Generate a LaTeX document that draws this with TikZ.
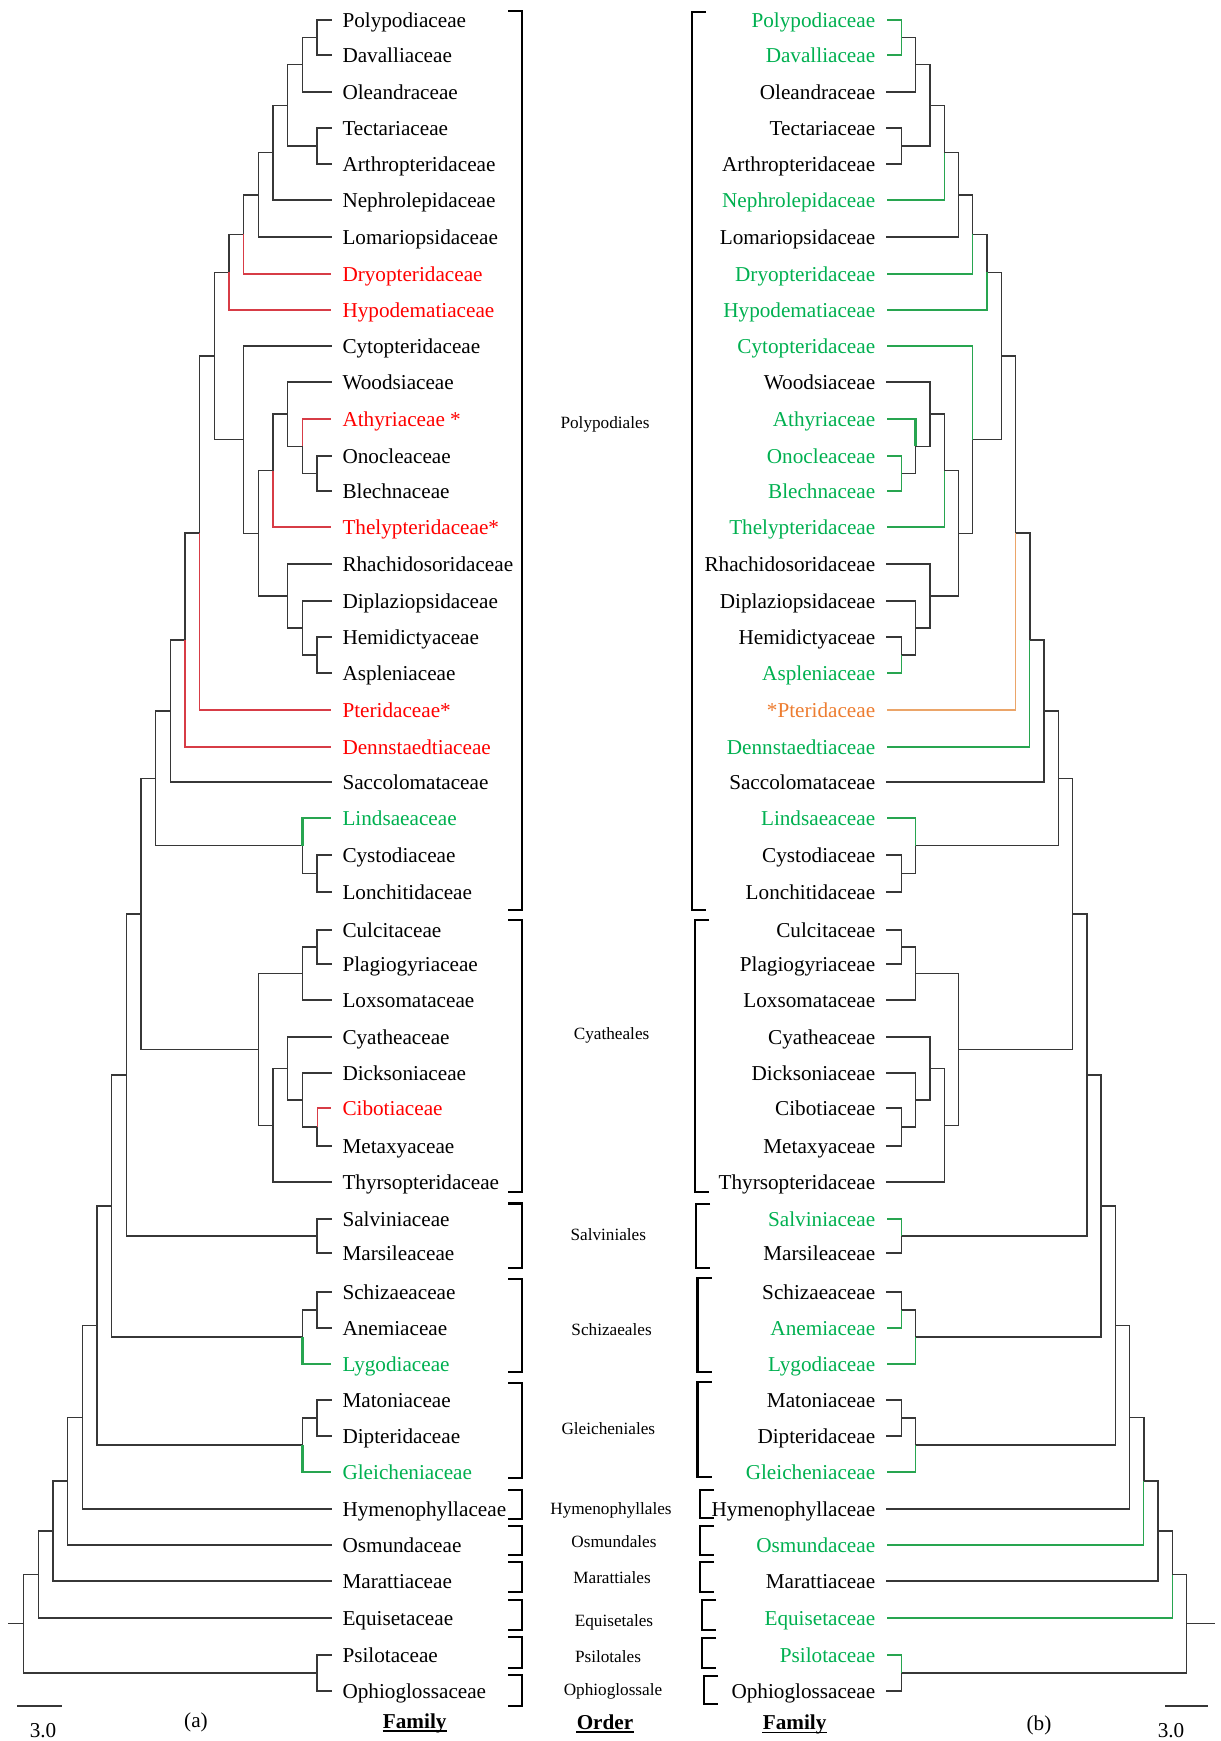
\documentclass[tikz,border=0pt]{standalone}
\usepackage{fontspec}
\setmainfont{Liberation Serif}
\usetikzlibrary{calc}
\definecolor{tred}{RGB}{255,0,0}
\definecolor{tgreen}{RGB}{0,176,80}
\definecolor{torange}{RGB}{237,125,49}
\definecolor{lred}{RGB}{215,60,70}
\definecolor{lgreen}{RGB}{40,165,80}
\definecolor{lorange}{RGB}{235,165,105}
\definecolor{treec}{RGB}{55,55,55}
\newcommand\labfont{\fontsize{10.6pt}{12pt}\selectfont}
\newcommand\ordfont{\fontsize{8.6pt}{10pt}\selectfont}
\newcommand\mkleaf[2]{\coordinate (L#1) at (331.3,#2); \coordinate (R#1) at (887,#2);}
\newcommand\mknode[3]{\coordinate (L#1) at ({xl(#2)},#3); \coordinate (R#1) at ({xr(#2)},#3);}
\newcommand\Lcon[3][tr]{\draw[#1] (L#2) |- (L#3);}
\newcommand\Rcon[3][tr]{\draw[#1] (R#2) |- (R#3);}
\newcommand\Ltx[3][]{\node[llab,#1] (tL#2) at (L#2) {#3};}
\newcommand\Rtx[3][]{\node[rlab,#1] (tR#2) at (R#2) {#3};}
\newcommand\Lbrk[2]{\draw[brk] (508,#1) -- (522,#1) -- (522,#2) -- (508,#2);}
\newcommand\Rbrk[3]{\draw[brk] ({#1+14},#2) -- (#1,#2) -- (#1,#3) -- ({#1+14},#3);}
\tikzset{
  tr/.style={draw=treec, line width=0.7pt, line cap=rect},
  rd/.style={draw=lred, line width=0.6pt},
  gn/.style={draw=lgreen, line width=0.6pt},
  gnk/.style={draw=lgreen, line width=1.3pt},
  og/.style={draw=lorange, line width=0.6pt},
  brk/.style={draw=black, line width=1.3pt},
  llab/.style={anchor=base west, inner sep=0pt, xshift=5.4pt, yshift=-3.8pt, font=\labfont},
  rlab/.style={anchor=base east, inner sep=0pt, xshift=-5.7pt, yshift=-3.8pt, font=\labfont},
  olab/.style={anchor=base, inner sep=0pt, font=\ordfont},
  btxt/.style={anchor=base, inner sep=0pt, font=\labfont},
}
\begin{document}
\begin{tikzpicture}[x=0.5pt,y=-0.5pt,
  declare function={xl(\k)=23.7+14.67*\k; xr(\k)=1186.6-14.255*\k;}]
\useasboundingbox (0,0) rectangle (1221,1741);
% leaves
\mkleaf{poly}{20}\mkleaf{dava}{55}\mkleaf{olea}{92}\mkleaf{tect}{128}
\mkleaf{arth}{164}\mkleaf{neph}{200}\mkleaf{loma}{237}\mkleaf{dryo}{274}
\mkleaf{hypo}{310}\mkleaf{cyto}{346}\mkleaf{wood}{382}\mkleaf{athy}{419}
\mkleaf{onoc}{456}\mkleaf{blec}{491}\mkleaf{thel}{527}\mkleaf{rhac}{564}
\mkleaf{dipl}{601}\mkleaf{hemi}{637}\mkleaf{aspl}{673}\mkleaf{pter}{710}
\mkleaf{denn}{747}\mkleaf{sacc}{782}\mkleaf{lind}{818}\mkleaf{cyst}{855}
\mkleaf{lonc}{892}\mkleaf{culc}{930}\mkleaf{plag}{964}\mkleaf{loxo}{1000}
\mkleaf{cyat}{1037}\mkleaf{dick}{1073}\mkleaf{cibo}{1108}\mkleaf{meta}{1146}
\mkleaf{thyr}{1182}\mkleaf{salv}{1219}\mkleaf{mars}{1253}\mkleaf{schi}{1292}
\mkleaf{anem}{1328}\mkleaf{lygo}{1364}\mkleaf{mato}{1400}\mkleaf{dipt}{1436}
\mkleaf{glei}{1472}\mkleaf{hyme}{1509}\mkleaf{osmu}{1545}\mkleaf{mara}{1581}
\mkleaf{equi}{1618}\mkleaf{psil}{1655}\mkleaf{ophi}{1691}
% internal nodes
\mknode{a1}{20}{37.5}\mknode{a2}{19}{64.75}\mknode{a3}{20}{146}
\mknode{a4}{18}{105.4}\mknode{a5}{17}{152.7}\mknode{a6}{16}{194.85}
\mknode{a7}{15}{234.4}\mknode{a8}{14}{272.2}
\mknode{b1}{20}{473.5}\mknode{b2}{19}{446.25}\mknode{b3}{18}{414.1}
\mknode{b4}{17}{470.6}\mknode{b5}{20}{655}\mknode{b6}{19}{628}
\mknode{b7}{18}{596}\mknode{b8}{16}{533.3}\mknode{b9}{15}{439.65}
\mknode{c1}{13}{355.9}\mknode{c2}{12}{532.95}\mknode{c3}{11}{640}
\mknode{c4}{10}{711}\mknode{d1}{20}{873.5}\mknode{d2}{19}{845.75}
\mknode{c5}{9}{778.4}
\mknode{e1}{20}{947}\mknode{e2}{19}{973.5}\mknode{e3}{20}{1127}
\mknode{e4}{19}{1100}\mknode{e5}{18}{1068.5}\mknode{e6}{17}{1125.25}
\mknode{e7}{16}{1049.4}\mknode{c6}{8}{913.9}
\mknode{f1}{20}{1236}\mknode{c7}{7}{1074.95}
\mknode{g1}{20}{1310}\mknode{g2}{19}{1337}\mknode{c8}{6}{1206}
\mknode{h1}{20}{1418}\mknode{h2}{19}{1445}\mknode{c9}{5}{1325.5}
\mknode{c10}{4}{1417.25}\mknode{c11}{3}{1481.1}\mknode{c12}{2}{1531}
\mknode{c13}{1}{1574.5}\mknode{i1}{20}{1673}\mknode{c14}{0}{1623.75}
\coordinate (Lroot) at (9,1623.75);
\coordinate (Rroot) at (1214,1623.75);
% ---------- left tree: black connectors
\Lcon{a1}{poly}\Lcon{a1}{dava}\Lcon{a2}{a1}\Lcon{a2}{olea}
\Lcon{a3}{tect}\Lcon{a3}{arth}\Lcon{a4}{a2}\Lcon{a4}{a3}
\Lcon{a5}{a4}\Lcon{a5}{neph}\Lcon{a6}{a5}\Lcon{a6}{loma}
\Lcon{a7}{a6}\Lcon{a8}{a7}
\Lcon{b1}{onoc}\Lcon{b1}{blec}\Lcon{b2}{b1}\Lcon{b3}{wood}\Lcon{b3}{b2}
\Lcon{b4}{b3}\Lcon{b5}{hemi}\Lcon{b5}{aspl}\Lcon{b6}{dipl}\Lcon{b6}{b5}
\Lcon{b7}{rhac}\Lcon{b7}{b6}\Lcon{b8}{b4}\Lcon{b8}{b7}\Lcon{b9}{cyto}\Lcon{b9}{b8}
\Lcon{c1}{a8}\Lcon{c1}{b9}\Lcon{c2}{c1}\Lcon{c3}{c2}\Lcon{c4}{c3}\Lcon{c4}{sacc}
\Lcon{d1}{cyst}\Lcon{d1}{lonc}\Lcon{d2}{d1}\Lcon{c5}{c4}\Lcon{c5}{d2}
\Lcon{e1}{culc}\Lcon{e1}{plag}\Lcon{e2}{e1}\Lcon{e2}{loxo}\Lcon{e3}{meta}
\Lcon{e4}{dick}\Lcon{e4}{e3}\Lcon{e5}{cyat}\Lcon{e5}{e4}\Lcon{e6}{e5}\Lcon{e6}{thyr}
\Lcon{e7}{e2}\Lcon{e7}{e6}\Lcon{c6}{c5}\Lcon{c6}{e7}
\Lcon{f1}{salv}\Lcon{f1}{mars}\Lcon{c7}{c6}\Lcon{c7}{f1}
\Lcon{g1}{schi}\Lcon{g1}{anem}\Lcon{g2}{g1}\Lcon{c8}{c7}\Lcon{c8}{g2}
\Lcon{h1}{mato}\Lcon{h1}{dipt}\Lcon{h2}{h1}\Lcon{c9}{c8}\Lcon{c9}{h2}
\Lcon{c10}{c9}\Lcon{c10}{hyme}\Lcon{c11}{c10}\Lcon{c11}{osmu}
\Lcon{c12}{c11}\Lcon{c12}{mara}\Lcon{c13}{c12}\Lcon{c13}{equi}
\Lcon{i1}{psil}\Lcon{i1}{ophi}\Lcon{c14}{c13}\Lcon{c14}{i1}
\draw[tr] (Lc14) -- (Lroot);
% left coloured connectors
\Lcon[rd]{a7}{dryo}\Lcon[rd]{a8}{hypo}\Lcon[rd]{b2}{athy}\Lcon[rd]{b4}{thel}
\Lcon[rd]{c2}{pter}\Lcon[rd]{c3}{denn}\Lcon[rd]{e3}{cibo}
\Lcon[gnk]{d2}{lind}\Lcon[gnk]{g2}{lygo}\Lcon[gnk]{h2}{glei}
% ---------- right tree: black connectors
\Rcon{a2}{a1}\Rcon{a2}{olea}
\Rcon{a3}{tect}\Rcon{a3}{arth}\Rcon{a4}{a2}\Rcon{a4}{a3}
\Rcon{a5}{a4}\Rcon{a6}{a5}\Rcon{a6}{loma}
\Rcon{a7}{a6}\Rcon{a8}{a7}
\Rcon{b2}{b1}\Rcon{b3}{wood}\Rcon{b3}{b2}
\Rcon{b4}{b3}\Rcon{b5}{hemi}\Rcon{b6}{dipl}\Rcon{b6}{b5}
\Rcon{b7}{rhac}\Rcon{b7}{b6}\Rcon{b8}{b4}\Rcon{b8}{b7}\Rcon{b9}{b8}
\Rcon{c1}{a8}\Rcon{c1}{b9}\Rcon{c2}{c1}\Rcon{c3}{c2}\Rcon{c4}{c3}\Rcon{c4}{sacc}
\Rcon{d1}{cyst}\Rcon{d1}{lonc}\Rcon{d2}{d1}\Rcon{c5}{c4}\Rcon{c5}{d2}
\Rcon{e1}{culc}\Rcon{e1}{plag}\Rcon{e2}{e1}\Rcon{e2}{loxo}\Rcon{e3}{cibo}\Rcon{e3}{meta}
\Rcon{e4}{dick}\Rcon{e4}{e3}\Rcon{e5}{cyat}\Rcon{e5}{e4}\Rcon{e6}{e5}\Rcon{e6}{thyr}
\Rcon{e7}{e2}\Rcon{e7}{e6}\Rcon{c6}{c5}\Rcon{c6}{e7}
\Rcon{f1}{mars}\Rcon{c7}{c6}\Rcon{c7}{f1}
\Rcon{g1}{schi}\Rcon{g2}{g1}\Rcon{c8}{c7}\Rcon{c8}{g2}
\Rcon{h1}{mato}\Rcon{h1}{dipt}\Rcon{h2}{h1}\Rcon{c9}{c8}\Rcon{c9}{h2}
\Rcon{c10}{c9}\Rcon{c10}{hyme}\Rcon{c11}{c10}
\Rcon{c12}{c11}\Rcon{c12}{mara}\Rcon{c13}{c12}
\Rcon{i1}{ophi}\Rcon{c14}{c13}\Rcon{c14}{i1}
\draw[tr] (Rc14) -- (Rroot);
% right coloured connectors
\Rcon[gn]{a1}{poly}\Rcon[gn]{a1}{dava}\Rcon[gn]{a5}{neph}\Rcon[gn]{a7}{dryo}
\Rcon[gn]{a8}{hypo}\Rcon[gn]{b9}{cyto}\Rcon[gnk]{b2}{athy}\Rcon[gn]{b1}{onoc}
\Rcon[gn]{b1}{blec}\Rcon[gn]{b4}{thel}\Rcon[gn]{b5}{aspl}\Rcon[og]{c2}{pter}
\Rcon[gn]{c3}{denn}\Rcon[gn]{d2}{lind}\Rcon[gn]{f1}{salv}\Rcon[gn]{g1}{anem}
\Rcon[gn]{g2}{lygo}\Rcon[gn]{h2}{glei}\Rcon[gn]{c11}{osmu}\Rcon[gn]{c13}{equi}
\Rcon[gn]{i1}{psil}
% ---------- left labels
\Ltx{poly}{Polypodiaceae}\Ltx{dava}{Davalliaceae}\Ltx{olea}{Oleandraceae}
\Ltx{tect}{Tectariaceae}\Ltx{arth}{Arthropteridaceae}\Ltx{neph}{Nephrolepidaceae}
\Ltx{loma}{Lomariopsidaceae}\Ltx[text=tred]{dryo}{Dryopteridaceae}
\Ltx[text=tred]{hypo}{Hypodematiaceae}\Ltx{cyto}{Cytopteridaceae}
\Ltx{wood}{Woodsiaceae}\Ltx[text=tred]{athy}{Athyriaceae *}
\Ltx{onoc}{Onocleaceae}\Ltx{blec}{Blechnaceae}\Ltx[text=tred]{thel}{Thelypteridaceae*}
\Ltx{rhac}{Rhachidosoridaceae}\Ltx{dipl}{Diplaziopsidaceae}\Ltx{hemi}{Hemidictyaceae}
\Ltx{aspl}{Aspleniaceae}\Ltx[text=tred]{pter}{Pteridaceae*}
\Ltx[text=tred]{denn}{Dennstaedtiaceae}\Ltx{sacc}{Saccolomataceae}
\Ltx[text=tgreen]{lind}{Lindsaeaceae}\Ltx{cyst}{Cystodiaceae}\Ltx{lonc}{Lonchitidaceae}
\Ltx{culc}{Culcitaceae}\Ltx{plag}{Plagiogyriaceae}\Ltx{loxo}{Loxsomataceae}
\Ltx{cyat}{Cyatheaceae}\Ltx{dick}{Dicksoniaceae}\Ltx[text=tred]{cibo}{Cibotiaceae}
\Ltx{meta}{Metaxyaceae}\Ltx{thyr}{Thyrsopteridaceae}\Ltx{salv}{Salviniaceae}
\Ltx{mars}{Marsileaceae}\Ltx{schi}{Schizaeaceae}\Ltx{anem}{Anemiaceae}
\Ltx[text=tgreen]{lygo}{Lygodiaceae}\Ltx{mato}{Matoniaceae}\Ltx{dipt}{Dipteridaceae}
\Ltx[text=tgreen]{glei}{Gleicheniaceae}\Ltx{hyme}{Hymenophyllaceae}
\Ltx{osmu}{Osmundaceae}\Ltx{mara}{Marattiaceae}\Ltx{equi}{Equisetaceae}
\Ltx{psil}{Psilotaceae}\Ltx{ophi}{Ophioglossaceae}
% ---------- right labels
\Rtx[text=tgreen]{poly}{Polypodiaceae}\Rtx[text=tgreen]{dava}{Davalliaceae}
\Rtx{olea}{Oleandraceae}\Rtx{tect}{Tectariaceae}\Rtx{arth}{Arthropteridaceae}
\Rtx[text=tgreen]{neph}{Nephrolepidaceae}\Rtx{loma}{Lomariopsidaceae}
\Rtx[text=tgreen]{dryo}{Dryopteridaceae}\Rtx[text=tgreen]{hypo}{Hypodematiaceae}
\Rtx[text=tgreen]{cyto}{Cytopteridaceae}\Rtx{wood}{Woodsiaceae}
\Rtx[text=tgreen]{athy}{Athyriaceae}\Rtx[text=tgreen]{onoc}{Onocleaceae}
\Rtx[text=tgreen]{blec}{Blechnaceae}\Rtx[text=tgreen]{thel}{Thelypteridaceae}
\Rtx{rhac}{Rhachidosoridaceae}\Rtx{dipl}{Diplaziopsidaceae}\Rtx{hemi}{Hemidictyaceae}
\Rtx[text=tgreen]{aspl}{Aspleniaceae}\Rtx[text=torange]{pter}{*Pteridaceae}
\Rtx[text=tgreen]{denn}{Dennstaedtiaceae}\Rtx{sacc}{Saccolomataceae}
\Rtx[text=tgreen]{lind}{Lindsaeaceae}\Rtx{cyst}{Cystodiaceae}\Rtx{lonc}{Lonchitidaceae}
\Rtx{culc}{Culcitaceae}\Rtx{plag}{Plagiogyriaceae}\Rtx{loxo}{Loxsomataceae}
\Rtx{cyat}{Cyatheaceae}\Rtx{dick}{Dicksoniaceae}\Rtx{cibo}{Cibotiaceae}
\Rtx{meta}{Metaxyaceae}\Rtx{thyr}{Thyrsopteridaceae}\Rtx[text=tgreen]{salv}{Salviniaceae}
\Rtx{mars}{Marsileaceae}\Rtx{schi}{Schizaeaceae}\Rtx[text=tgreen]{anem}{Anemiaceae}
\Rtx[text=tgreen]{lygo}{Lygodiaceae}\Rtx{mato}{Matoniaceae}\Rtx{dipt}{Dipteridaceae}
\Rtx[text=tgreen]{glei}{Gleicheniaceae}\Rtx{hyme}{Hymenophyllaceae}
\Rtx[text=tgreen]{osmu}{Osmundaceae}\Rtx{mara}{Marattiaceae}
\Rtx[text=tgreen]{equi}{Equisetaceae}\Rtx[text=tgreen]{psil}{Psilotaceae}
\Rtx{ophi}{Ophioglossaceae}
% ---------- brackets
\Lbrk{11}{910}\Lbrk{920}{1192}\Lbrk{1203.5}{1268}\Lbrk{1279}{1372}
\Lbrk{1383}{1478}\Lbrk{1490}{1519}\Lbrk{1526}{1555}\Lbrk{1562}{1592}
\Lbrk{1600}{1630}\Lbrk{1637}{1668}\Lbrk{1675}{1706}
\Rbrk{692}{12}{910}\Rbrk{695}{920}{1192}\Rbrk{696}{1204}{1268}
\Rbrk{697.5}{1278}{1372}\Rbrk{697.5}{1382}{1477}\Rbrk{700}{1490}{1518}
\Rbrk{700}{1526}{1555}\Rbrk{700}{1562}{1592}\Rbrk{702}{1600}{1630}
\Rbrk{702}{1638}{1668}\Rbrk{704}{1676}{1704}
% ---------- order labels
\node[olab] (oPoly) at (605,428.5) {Polypodiales};
\node[olab] (oCyat) at (611.6,1039) {Cyatheales};
\node[olab] (oSalv) at (608.3,1240) {Salviniales};
\node[olab] (oSchi) at (611.6,1335.5) {Schizaeales};
\node[olab] (oGlei) at (608.3,1434.3) {Gleicheniales};
\node[olab] (oHyme) at (611,1514) {Hymenophyllales};
\node[olab] (oOsmu) at (614,1547) {Osmundales};
\node[olab] (oMara) at (612,1583) {Marattiales};
\node[olab] (oEqui) at (614,1626) {Equisetales};
\node[olab] (oPsil) at (608,1662) {Psilotales};
\node[olab] (oOphi) at (613,1695) {Ophioglossale};
% ---------- bottom
\coordinate (sbL1) at (17,1706); \coordinate (sbL2) at (62,1706);
\coordinate (sbR1) at (1165,1706); \coordinate (sbR2) at (1208,1706);
\draw[tr, line cap=butt] (sbL1) -- (sbL2);
\draw[tr, line cap=butt] (sbR1) -- (sbR2);
\node[btxt] (sclL) at (43,1737.7) {3.0};
\node[btxt] (sclR) at (1171,1737.7) {3.0};
\node[btxt] (capA) at (196,1727) {(a)};
\node[btxt] (capB) at (1039,1730) {(b)};
\node[btxt, font=\labfont\bfseries] (famL) at (414.7,1728) {Family};
\node[btxt, font=\labfont\bfseries] (ordr) at (605,1729.3) {Order};
\node[btxt, font=\labfont\bfseries] (famR) at (794.6,1729.7) {Family};
\foreach \n in {famL,ordr,famR}
  \draw[line width=0.75pt] ([yshift=-1.4pt]\n.base west) -- ([yshift=-1.4pt]\n.base east);
\end{tikzpicture}
\end{document}
